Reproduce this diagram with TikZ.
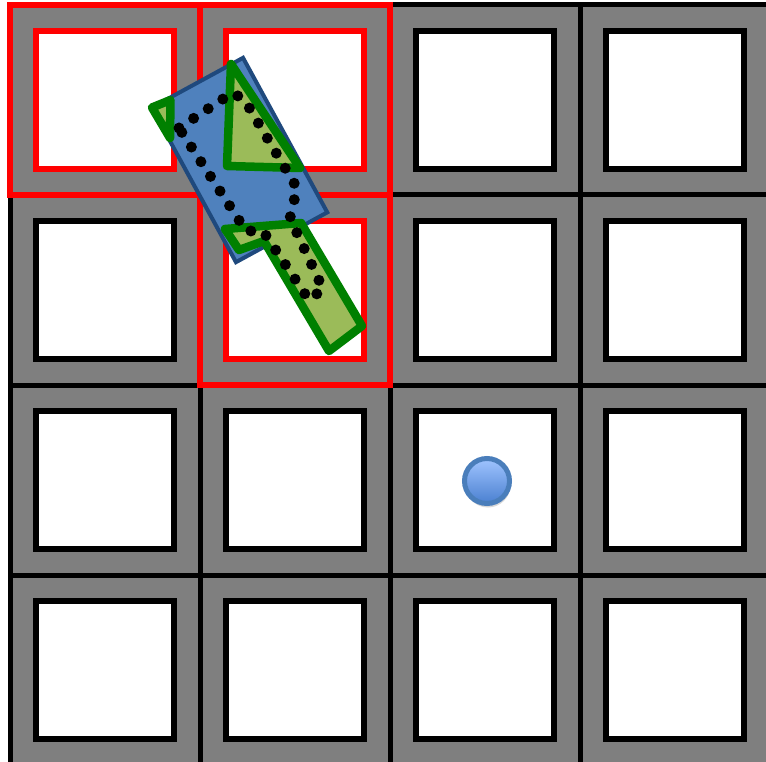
\documentclass[tikz,border=0pt]{standalone}
\usepackage{tikz}
\usetikzlibrary{positioning, shadows}
\definecolor{cellgray}{RGB}{127,127,127}
\definecolor{bodyblue}{RGB}{79,129,189}
\definecolor{bodyedge}{RGB}{31,73,125}
\definecolor{sweepgreen}{RGB}{155,187,89}
\definecolor{sweepedge}{RGB}{0,128,0}
\definecolor{goaltop}{RGB}{160,196,255}
\definecolor{goalbottom}{RGB}{74,128,208}
\definecolor{goaledge}{RGB}{74,126,187}

\begin{document}
\begin{tikzpicture}[
    x=1pt, y=-1pt,
    cell/.style={draw, line width=5pt, fill=cellgray, minimum size=190pt, inner sep=0pt},
    hole/.style={draw, line width=6pt, fill=white, minimum size=138pt, inner sep=0pt,
        drop shadow={shadow xshift=3pt, shadow yshift=-4pt, opacity=0.3}},
    marked/.style={draw=red, line width=6pt, minimum size=#1, inner sep=0pt},
    sweep/.style={draw=sweepedge, fill=sweepgreen, line width=8.5pt, line join=round},
    trail/.style={line width=11pt, line cap=round, dash pattern=on 0pt off 17.5pt},
]
    \useasboundingbox (0,0) rectangle (766,762);
    \clip (0,0) rectangle (766,762);
    \fill[white] (0,0) rectangle (766,762);
    % grid of cells
    \foreach \row in {0,...,3}
        \foreach \col in {0,...,3} {
            \node[cell] (cell-\row-\col) at (105+190*\col, 100+190*\row) {};
            \node[hole] (hole-\row-\col) at (cell-\row-\col.center) {};
        }
    % occupied cells
    \foreach \row/\col in {0/0, 0/1, 1/1} {
        \node[marked=190pt] (mark-\row-\col) at (cell-\row-\col.center) {};
        \node[marked=138pt] (markin-\row-\col) at (hole-\row-\col.center) {};
    }
    % robot body and swept area
    \node[draw=bodyedge, fill=bodyblue, line width=4pt, minimum width=104pt,
        minimum height=176pt, inner sep=0pt, rotate=28.6] (body) at (239.5,160) {};
    \draw[sweep] (152,107.5) -- (170.5,100) -- (170,138) -- cycle;
    \draw[sweep] (231,64) -- (300,168) -- (227,166) -- cycle;
    \draw[sweep] (225,229) -- (301,223) -- (362,326) -- (329,351) -- (264,241)
        -- (239,250) -- cycle;
    \draw[trail] (179,128) -- (232,93) -- (244,99) -- (297,188) -- (290,218)
        -- (323,289) -- (309,300) -- (263,231) -- (246,231) -- cycle;
    % goal
    \node[circle, draw=goaledge, line width=5pt, top color=goaltop, bottom color=goalbottom,
        minimum size=45pt, inner sep=0pt,
        drop shadow={shadow xshift=1pt, shadow yshift=-4pt, opacity=0.3}] (goal) at (487,481) {};
\end{tikzpicture}
\end{document}
